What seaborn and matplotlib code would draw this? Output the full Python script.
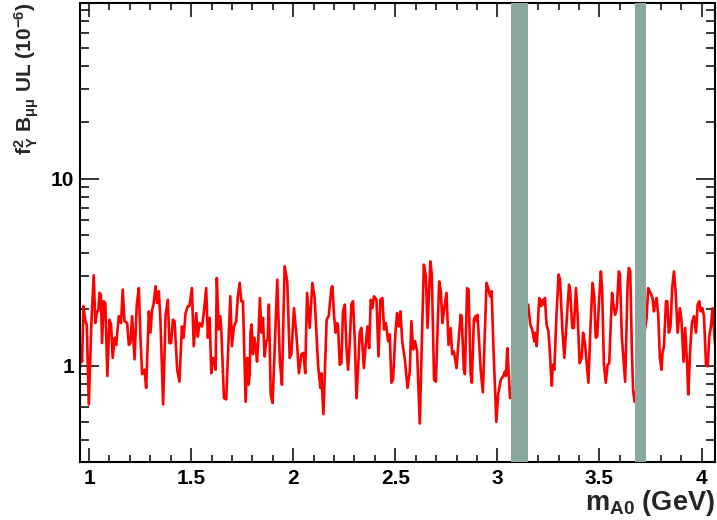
import matplotlib
matplotlib.use("Agg")
import matplotlib.pyplot as plt
import seaborn as sns
from matplotlib.ticker import MultipleLocator, LogLocator, FuncFormatter, NullFormatter

# upper limit scan
mass = [
    0.955, 0.960, 0.966, 0.973, 0.982, 0.989, 0.999, 1.012, 1.023, 1.031,
    1.038, 1.046, 1.051, 1.058, 1.064, 1.072, 1.080, 1.090, 1.100, 1.108,
    1.116, 1.126, 1.133, 1.146, 1.157, 1.165, 1.174, 1.187, 1.195, 1.203,
    1.211, 1.223, 1.234, 1.244, 1.252, 1.260, 1.272, 1.280, 1.293, 1.301,
    1.309, 1.316, 1.326, 1.334, 1.342, 1.350, 1.363, 1.375, 1.386, 1.394,
    1.402, 1.411, 1.419, 1.432, 1.443, 1.455, 1.463, 1.473, 1.484, 1.492,
    1.504, 1.513, 1.525, 1.533, 1.541, 1.554, 1.562, 1.574,
    1.582, 1.591, 1.599, 1.607, 1.615, 1.620, 1.626, 1.635, 1.643, 1.648,
    1.661, 1.672, 1.692, 1.700, 1.710, 1.721, 1.729, 1.738, 1.746, 1.754,
    1.767, 1.775, 1.782, 1.787, 1.791, 1.796, 1.803, 1.809, 1.816, 1.823,
    1.829, 1.837, 1.845, 1.852, 1.860, 1.868, 1.875, 1.881, 1.890, 1.899,
    1.909, 1.922, 1.935, 1.945, 1.952, 1.958, 1.971, 1.983, 1.991, 2.004,
    2.017, 2.028, 2.040, 2.050, 2.059, 2.068, 2.081, 2.094, 2.105, 2.122,
    2.133, 2.138, 2.148, 2.164, 2.174, 2.187,
    2.192, 2.200, 2.208, 2.215, 2.220, 2.228, 2.236, 2.244, 2.253, 2.261,
    2.269, 2.277, 2.285, 2.293, 2.302, 2.310, 2.318, 2.326, 2.334, 2.346,
    2.355, 2.364, 2.372, 2.380, 2.388, 2.396, 2.408, 2.418, 2.427, 2.437,
    2.445, 2.454, 2.465, 2.473, 2.481, 2.489, 2.501, 2.509, 2.517, 2.525,
    2.535, 2.547, 2.560, 2.571, 2.579, 2.588, 2.597, 2.607, 2.620, 2.633,
    2.640, 2.650, 2.658, 2.672, 2.679, 2.690, 2.699, 2.715, 2.723, 2.731,
    2.739, 2.751, 2.761, 2.771, 2.779, 2.787, 2.800,
    2.820, 2.825, 2.836, 2.841, 2.852, 2.859, 2.869, 2.875, 2.885, 2.893,
    2.898, 2.903, 2.919, 2.929, 2.947, 2.955, 2.964, 2.972, 2.982, 2.995,
    3.004, 3.017, 3.029, 3.037, 3.042, 3.049, 3.055, 3.062,
    3.151, 3.161, 3.171, 3.181, 3.184, 3.192, 3.196, 3.205, 3.214, 3.222,
    3.227, 3.233, 3.241, 3.250, 3.258, 3.266, 3.272, 3.279, 3.289, 3.300,
    3.307, 3.318, 3.328, 3.338, 3.351, 3.357, 3.367, 3.375, 3.385, 3.393,
    3.403, 3.413,
    3.420, 3.429, 3.437, 3.446, 3.456, 3.466, 3.474, 3.482, 3.489, 3.499,
    3.507, 3.513, 3.522, 3.531, 3.540, 3.548, 3.556, 3.562, 3.569, 3.577,
    3.585, 3.595, 3.600, 3.610, 3.626, 3.638, 3.644, 3.651, 3.659, 3.665,
    3.672,
    3.731, 3.739, 3.750, 3.760, 3.767, 3.773, 3.780, 3.788, 3.796, 3.804,
    3.809, 3.816, 3.826, 3.832, 3.840, 3.848, 3.857, 3.865, 3.873, 3.883,
    3.894, 3.902, 3.912, 3.920, 3.930, 3.935, 3.945, 3.953, 3.963, 3.973,
    3.981, 3.989, 3.996, 4.004, 4.012, 4.022, 4.030, 4.038, 4.046, 4.054,
    4.066,
]
ul = [
    0.97, 1.17, 1.05, 2.08, 1.73, 1.66, 0.62, 1.73, 3.04, 1.69,
    1.91, 1.99, 2.45, 2.40, 1.32, 2.21, 2.16, 0.88, 1.76, 1.66,
    1.10, 1.41, 1.29, 1.84, 1.69, 2.55, 1.73, 1.69, 1.29, 1.32,
    1.84, 1.08, 2.12, 2.60, 1.41, 0.90, 0.95, 0.76, 1.95, 1.50,
    1.99, 2.12, 2.66, 2.16, 2.50, 1.73, 0.62, 1.87, 2.25, 1.32,
    1.32, 1.76, 1.73, 0.95, 0.82, 1.62, 1.41, 1.91, 2.08, 2.08,
    2.60, 1.27, 1.91, 1.43, 1.69, 1.62, 1.91, 2.60,
    1.41, 1.80, 0.91, 1.10, 1.05, 0.95, 2.94, 1.56, 1.84, 1.56,
    0.67, 0.66, 2.35, 1.27, 1.62, 1.73, 2.35, 2.77, 2.21, 2.21,
    0.64, 1.10, 0.79, 0.90, 1.50, 1.66, 1.15, 1.41, 1.29, 1.05,
    1.35, 2.30, 1.50, 1.80, 1.12, 1.35, 1.38, 2.12, 0.70, 0.63,
    1.19, 2.88, 1.05, 0.79, 1.73, 3.40, 2.82, 1.10, 1.15, 2.03,
    1.41, 0.91, 1.15, 1.17, 0.91, 2.45, 1.59, 2.77, 2.30, 1.01,
    0.76, 0.91, 0.55, 1.76, 1.84, 2.60,
    2.66, 1.87, 1.50, 1.69, 1.62, 1.01, 1.03, 1.95, 2.12, 1.24,
    0.95, 1.32, 2.12, 2.21, 1.35, 0.67, 0.97, 1.50, 1.59, 0.97,
    1.29, 1.62, 1.24, 2.25, 2.03, 2.35, 2.25, 1.12, 2.25, 2.30,
    1.56, 1.69, 1.35, 1.47, 0.81, 0.84, 1.50, 1.91, 1.62, 1.95,
    1.32, 1.08, 0.76, 0.93, 1.73, 1.22, 1.35, 1.19, 0.49, 1.73,
    3.47, 3.00, 1.59, 3.61, 3.07, 0.84, 0.82, 2.82, 2.50, 1.69,
    1.99, 2.45, 1.29, 1.59, 1.15, 1.19, 0.97,
    1.87, 1.84, 0.95, 0.90, 2.60, 2.55, 0.91, 0.81, 1.76, 1.84,
    1.73, 1.87, 0.93, 0.72, 2.77, 2.60, 2.35, 2.50, 1.15, 0.50,
    0.70, 0.84, 0.88, 0.93, 0.88, 1.24, 0.95, 0.67,
    2.12, 1.66, 1.56, 1.35, 1.50, 1.27, 1.47, 2.30, 2.08, 2.25,
    2.12, 2.30, 1.66, 1.53, 1.15, 0.78, 1.01, 0.95, 1.80, 3.07,
    2.88, 1.59, 1.10, 1.62, 2.71, 2.50, 1.59, 1.59, 2.60, 1.87,
    1.03, 1.10,
    1.50, 1.32, 1.05, 0.81, 1.59, 2.77, 2.40, 1.41, 1.43, 2.30,
    3.19, 2.60, 1.01, 0.81, 1.01, 1.03, 1.73, 2.45, 2.08, 1.87,
    2.03, 3.19, 3.07, 1.41, 0.82, 2.71, 3.33, 3.19, 1.19, 0.74,
    0.64,
    1.80, 2.60, 2.45, 2.30, 1.95, 2.16, 2.30, 1.87, 1.10, 0.95,
    1.17, 1.27, 2.21, 2.21, 1.50, 1.62, 2.66, 3.19, 2.50, 1.50,
    2.03, 1.73, 1.05, 1.59, 0.99, 0.70, 1.24, 1.69, 1.84, 1.50,
    2.12, 2.21, 1.95, 2.03, 1.84, 1.01, 0.99, 1.43, 1.62, 2.03,
    1.30,
]

# vetoed mass windows (J/psi, psi(2S))
veto_lo = [3.066, 3.674]
veto_hi = [3.148, 3.728]

sns.set_theme(style="ticks")
plt.rcParams['font.family'] = ['Liberation Sans', 'DejaVu Sans']
plt.rcParams['font.weight'] = 'bold'
plt.rcParams['mathtext.fontset'] = 'custom'
plt.rcParams['mathtext.rm'] = 'Liberation Sans:bold'
plt.rcParams['mathtext.bf'] = 'Liberation Sans:bold'
plt.rcParams['mathtext.it'] = 'Liberation Sans:bold'
plt.rcParams['mathtext.default'] = 'bf'

fig = plt.figure(figsize=(7.17, 5.2), dpi=100)
ax = fig.add_axes([0.1116, 0.1115, 0.8856, 0.8827])

sns.lineplot(x=mass, y=ul, sort=False, estimator=None, color='#ff0000',
             linewidth=1.9, ax=ax, zorder=2)
for lo, hi in zip(veto_lo, veto_hi):
    ax.axvspan(lo, hi, color='#8aa8a0', lw=0, zorder=3)

ax.set_yscale('log')
ax.set_xlim(0.956, 4.066)
ax.set_ylim(0.305, 87)

ax.xaxis.set_major_locator(MultipleLocator(0.5))
ax.xaxis.set_minor_locator(MultipleLocator(0.1))
ax.xaxis.set_major_formatter(FuncFormatter(lambda v, _: f"{v:g}"))
ax.yaxis.set_major_locator(LogLocator(base=10))
ax.yaxis.set_minor_locator(LogLocator(base=10, subs=range(2, 10)))
ax.yaxis.set_major_formatter(FuncFormatter(lambda v, _: f"{v:g}"))
ax.yaxis.set_minor_formatter(NullFormatter())

ax.tick_params(axis='both', which='both', direction='in', top=True, right=True,
               width=1.1, colors='black', labelsize=15)
ax.tick_params(axis='x', which='major', length=10, pad=5)
ax.tick_params(axis='x', which='minor', length=5)
ax.tick_params(axis='y', which='major', length=13.5, pad=4)
ax.tick_params(axis='y', which='minor', length=6.5)
for s in ax.spines.values():
    s.set_linewidth(1.5)
    s.set_color('black')

ax.set_xlabel(r"$m_{A0}$ (GeV)", fontsize=19.5, fontweight='bold', loc='right', labelpad=0)
ax.set_ylabel(r"$f^{2}_{\Upsilon}\ B_{\mu\mu}$ UL ($10^{-6}$)", fontsize=15,
              fontweight='bold', loc='top', labelpad=7)

fig.savefig("out.png", dpi=100, facecolor='white')
